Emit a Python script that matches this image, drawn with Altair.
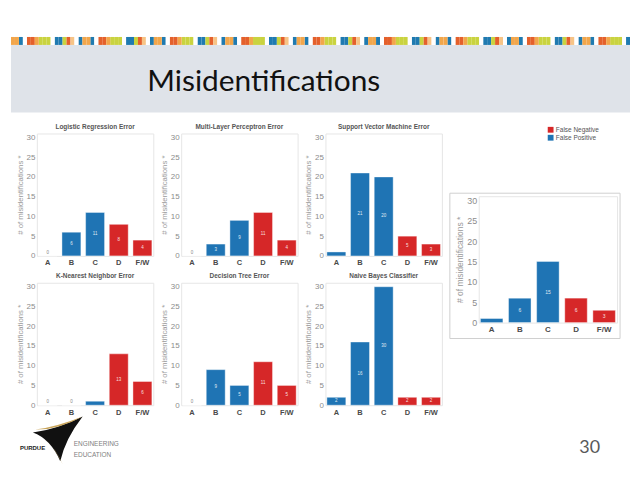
import altair as alt
import pandas as pd

# ---------------- data ----------------
categories = ["A", "B", "C", "D", "F/W"]
error_type = ["False Positive", "False Positive", "False Positive", "False Negative", "False Negative"]
panel_titles = ["Logistic Regression Error", "Multi-Layer Perceptron Error", "Support Vector Machine Error",
                "K-Nearest Neighbor Error", "Decision Tree Error", "Naive Bayes Classifier"]
logistic = [0, 6, 11, 8, 4]
mlp = [0, 3, 9, 11, 4]
svm = [1, 21, 20, 5, 3]
knn = [0, 0, 1, 13, 6]
tree = [0, 9, 5, 11, 5]
bayes = [2, 16, 30, 2, 2]
overall = [1, 6, 15, 6, 3]
y_ticks = [0, 5, 10, 15, 20, 25, 30]
legend_labels = ["False Negative", "False Positive"]
colors = ["#d62728", "#1f74b4"]
y_title = "# of misidentifications *"
slide_title = "Misidentifications"
page_number = "30"
stripe_palette = ["#f2a64b", "#f2a64b", "#1f7ab0", "#ffffff", "#e4602b", "#e4602b", "#f2a64b",
                  "#c9d33f", "#c9d33f", "#c9d33f", "#ffffff", "#1f7ab0", "#1f7ab0", "#c9d33f",
                  "#e4602b", "#f7c486", "#ffffff", "#1f7ab0"]

one = pd.DataFrame({"k": [0]})

legend = alt.Legend(orient="none", legendX=539, legendY=118, title=None, symbolType="square",
                    symbolSize=34, labelFontSize=6.5, labelColor="#555555", rowPadding=1,
                    padding=0, symbolStrokeWidth=0, labelOffset=2)
color_enc = alt.Color("type:N", scale=alt.Scale(domain=legend_labels, range=colors), legend=legend)


def x_enc(fs):
    return alt.X("cat:N", sort=categories, scale=alt.Scale(paddingInner=0.2, paddingOuter=0.06),
                 axis=alt.Axis(title=None, labelAngle=0, labelFontSize=fs, labelFontWeight="bold",
                               labelColor="#4a4a4a", labelPadding=3, ticks=False, tickSize=0,
                               domain=False, grid=False))


def y_enc(field, tfs, lfs):
    return alt.Y(field, scale=alt.Scale(domain=[0, 31], nice=False),
                 axis=alt.Axis(values=y_ticks, title=y_title, titleFontSize=tfs, titleColor="#9a9a9a",
                               titleFontWeight="normal", titlePadding=2, labelFontSize=lfs,
                               labelColor="#8c8c8c", labelPadding=2, ticks=False, tickSize=0,
                               domain=False, grid=False))


def panel(vals, title, w, h, xfs, tfs, lfs, vfs, framed=False):
    df = pd.DataFrame({"cat": categories, "type": error_type, "n": vals})
    base = alt.Chart(df)
    bars = base.mark_bar(stroke="white", strokeWidth=0.4).encode(
        x=x_enc(xfs), y=y_enc("n:Q", tfs, lfs), color=color_enc)
    mid = base.transform_filter("datum.n >= 2").transform_calculate(m="datum.n / 2").mark_text(
        fontSize=vfs, color="white", opacity=0.85, baseline="middle").encode(
        x=x_enc(xfs), y=y_enc("m:Q", tfs, lfs), text="n:Q")
    zero = base.transform_filter("datum.n == 0").mark_text(
        fontSize=vfs, color="#888888", dy=-3, baseline="middle").encode(
        x=x_enc(xfs), y=y_enc("n:Q", tfs, lfs), text="n:Q")
    layers = [bars, mid, zero]
    if framed:
        frame = alt.Chart(one).mark_rect(fillOpacity=0, stroke="#d0d0d0", strokeWidth=1).encode(
            x=alt.value(-29), x2=alt.value(w + 3), y=alt.value(-3), y2=alt.value(h + 16))
        layers = [frame] + layers
    props = dict(width=w, height=h, view=alt.ViewBackground(stroke="#e6e6e6"))
    if title:
        props["title"] = alt.TitleParams(title, fontSize=6.5, color="#555555", fontWeight="bold",
                                         offset=3, anchor="middle")
    return alt.layer(*layers).properties(**props)


def spacer(w, h):
    return alt.Chart(one).mark_point(opacity=0).encode(
        x=alt.value(w / 2), y=alt.value(h / 2)).properties(
        width=w, height=h, view=alt.ViewBackground(stroke=None))


PW, PH = 117, 123
series = [logistic, mlp, svm, knn, tree, bayes]
panels = [panel(v, t, PW, PH, 7.5, 7.8, 8, 4.5) for v, t in zip(series, panel_titles)]
row1 = alt.hconcat(*panels[:3], spacing=5)
row2 = alt.hconcat(*panels[3:], spacing=5)
grid = alt.vconcat(row1, row2, spacing=5)

right_panel = panel(overall, None, 139, 127, 8, 8.5, 9, 5, framed=True)
right_col = alt.vconcat(spacer(10, 59), right_panel, spacing=0)
inner = alt.hconcat(grid, right_col, spacing=6)
body = alt.hconcat(spacer(1, 10), inner, spacing=0)

# ---------------- header ----------------
HW = 622
n_cells = 156
stripe_df = pd.DataFrame({"i": list(range(n_cells)),
                          "c": [stripe_palette[i % len(stripe_palette)] for i in range(n_cells)]})
stripe_df["i2"] = stripe_df["i"] + 1
header_layers = [
    alt.Chart(one).mark_rect(color="#dfe3e9").encode(
        x=alt.value(0), x2=alt.value(HW), y=alt.value(36), y2=alt.value(104)),
]
for col in sorted(set(stripe_palette)):
    header_layers.append(
        alt.Chart(stripe_df).transform_filter(alt.datum.c == col).mark_rect(color=col).encode(
            x=alt.X("i:Q", scale=alt.Scale(domain=[0, n_cells], nice=False, zero=False), axis=None),
            x2="i2", y=alt.value(28), y2=alt.value(36)))
header_layers.append(
    alt.Chart(one).mark_text(text=slide_title, font="Lato", fontSize=30, align="center",
                             baseline="alphabetic", color="#111111").encode(
        x=alt.value(254), y=alt.value(82)))
header = alt.layer(*header_layers).properties(width=HW, height=104,
                                              view=alt.ViewBackground(stroke=None))

# ---------------- footer ----------------
black_path = "M 1 -0.95 Q 0.0 -0.45 -1 -0.3 Q -0.3 -0.05 0.1 0.85 Q 0.3 -0.05 1 -0.95 Z"
gold_path1 = "M 1 -0.95 Q 0.0 -0.55 -0.9 -0.42 Q 0.0 -0.4 1 -0.95 Z"
gold_path2 = "M -0.5 0.0 Q -0.1 0.3 0.2 0.98 Q -0.15 0.25 -0.5 0.0 Z"
footer = alt.layer(
    alt.Chart(one).mark_point(shape=black_path, size=2500, filled=True, color="#111111", opacity=1).encode(
        x=alt.value(47), y=alt.value(22)),
    alt.Chart(one).mark_point(shape=gold_path1, size=2500, filled=True, color="#c9a55a", opacity=1).encode(
        x=alt.value(47), y=alt.value(22)),
    alt.Chart(one).mark_point(shape=gold_path2, size=2500, filled=True, color="#c9a55a", opacity=1).encode(
        x=alt.value(47), y=alt.value(22)),
    alt.Chart(one).mark_text(text="PURDUE", fontSize=6, fontWeight="bold", color="#222222",
                             align="left", baseline="middle").encode(
        x=alt.value(9), y=alt.value(30)),
    alt.Chart(one).mark_text(text="ENGINEERING", fontSize=6.5, color="#808080",
                             align="left", baseline="middle").encode(
        x=alt.value(63), y=alt.value(26)),
    alt.Chart(one).mark_text(text="EDUCATION", fontSize=6.5, color="#808080",
                             align="left", baseline="middle").encode(
        x=alt.value(63), y=alt.value(37)),
    alt.Chart(one).mark_text(text=page_number, font="Lato", fontSize=18, color="#595959",
                             align="right", baseline="middle").encode(
        x=alt.value(592), y=alt.value(30)),
).properties(width=HW, height=48, view=alt.ViewBackground(stroke=None))

top = alt.vconcat(header, body, spacing=10)
chart = alt.vconcat(top, footer, spacing=0).properties(padding=0).configure(
    font="Liberation Sans", background="white")

chart.save("out.html", embed_options={"renderer": "svg", "actions": False})
